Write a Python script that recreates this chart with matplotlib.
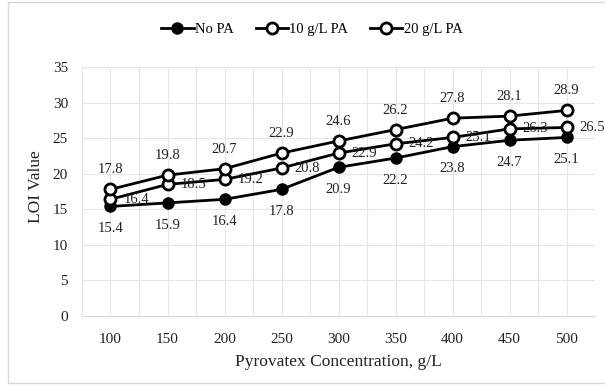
import matplotlib
matplotlib.use("Agg")
import matplotlib.pyplot as plt
from matplotlib.patches import Rectangle

categories = ["100", "150", "200", "250", "300", "350", "400", "450", "500"]
no_pa = [15.4, 15.9, 16.4, 17.8, 20.9, 22.2, 23.8, 24.7, 25.1]
pa_10 = [16.4, 18.5, 19.2, 20.8, 22.9, 24.2, 25.1, 26.3, 26.5]
pa_20 = [17.8, 19.8, 20.7, 22.9, 24.6, 26.2, 27.8, 28.1, 28.9]
series_names = ["No PA", "10 g/L PA", "20 g/L PA"]
y_ticks = [0, 5, 10, 15, 20, 25, 30, 35]

plt.rcParams['font.family'] = ['Liberation Serif', 'DejaVu Serif']

W, H = 605, 385
fig = plt.figure(figsize=(W/100, H/100), dpi=100)
fig.patches.append(Rectangle((8/W, 2/H), 1 - 6/W, 1 - 4/H, transform=fig.transFigure,
                             fill=False, edgecolor='#d9d9d9', linewidth=1))

ax = fig.add_axes([82/W, 1 - 316/H, (595-82)/W, (316-67)/H])
x = list(range(len(categories)))

gc = '#e6e6e6'
ax.set_xlim(-0.5, len(categories) - 0.5)
ax.set_ylim(0, 35)
ax.set_yticks(y_ticks)
ax.set_xticks(x)
ax.set_xticklabels(categories)
ax.set_xticks([i - 0.5 for i in range(len(categories) + 1)], minor=True)
ax.grid(True, which='both', color=gc, linewidth=0.8)
ax.set_axisbelow(True)
ax.tick_params(which='both', length=0, labelsize=11, colors='#222222')
ax.tick_params(axis='x', pad=12)
ax.tick_params(axis='y', pad=10)
for s in ['top', 'right', 'left']:
    ax.spines[s].set_visible(False)
ax.spines['bottom'].set_color('#d9d9d9')

lw = 2
ms = 8
l1, = ax.plot(x, no_pa, color='black', lw=lw, marker='o', ms=ms, mfc='black', mec='black', label=series_names[0])
l2, = ax.plot(x, pa_10, color='black', lw=lw, marker='o', ms=ms, mfc='white', mec='black', mew=2, label=series_names[1])
l3, = ax.plot(x, pa_20, color='black', lw=lw, marker='o', ms=ms, mfc='white', mec='black', mew=2, label=series_names[2])

fs = 10.5
for xi, v in zip(x, no_pa):
    ax.annotate(f"{v}", (xi, v), xytext=(0, -16), textcoords='offset points',
                ha='center', va='center', fontsize=fs, color='#222222')
for xi, v in zip(x, pa_10):
    ax.annotate(f"{v}", (xi, v), xytext=(9.5, 0), textcoords='offset points',
                ha='left', va='center', fontsize=fs, color='#222222', annotation_clip=False)
for xi, v in zip(x, pa_20):
    ax.annotate(f"{v}", (xi, v), xytext=(0, 14), textcoords='offset points',
                ha='center', va='center', fontsize=fs, color='#222222')

ax.set_xlabel("Pyrovatex Concentration, g/L", fontsize=12.5, color='#222222', labelpad=6)
ax.set_ylabel("LOI Value", fontsize=12.5, color='#222222', labelpad=4)
ax.yaxis.set_label_coords(-0.075, 0.52)

fig.legend(handles=[l1, l2, l3], loc='center', bbox_to_anchor=(312/W, 1 - 29/H), ncol=3,
           frameon=False, fontsize=10.5, handlelength=2.2, handletextpad=0.1, columnspacing=1.5,
           markerscale=1.0)

fig.savefig("out.png", dpi=100)
